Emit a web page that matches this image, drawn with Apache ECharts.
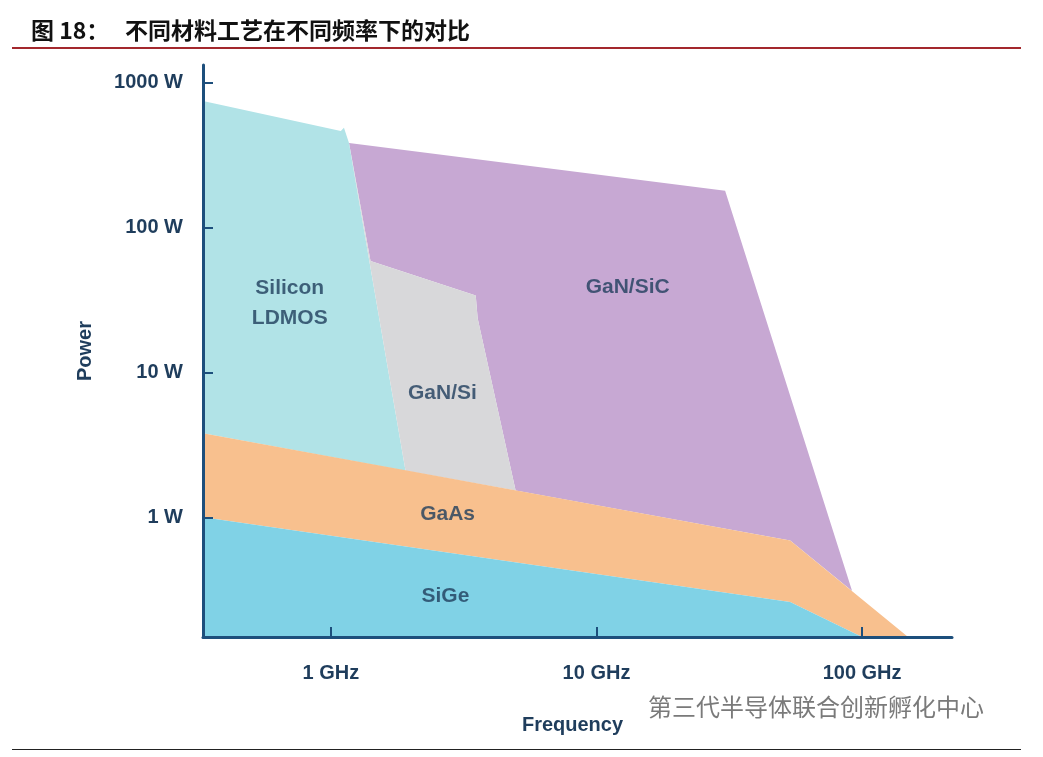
<!DOCTYPE html>
<html><head><meta charset="utf-8">
<script src="https://cdn.jsdelivr.net/npm/echarts@6/dist/echarts.min.js"></script>
<style>
html,body{margin:0;padding:0;background:#fff;}
#chart{width:1043px;height:757px;}
</style></head>
<body><div id="chart"></div>
<script>
// vertices as [GHz, W]
const ldmos = [[0.33, 750], [1.09, 466], [1.12, 490], [1.17, 385], [1.91, 2.1], [0.33, 3.8]];
const ganSi = [[1.17, 385], [1.41, 59], [3.51, 34], [3.57, 23.6], [4.96, 1.53], [1.91, 2.1]];
const ganSiC = [[1.17, 385], [30.5, 180], [91.7, 0.31], [53.6, 0.69], [4.96, 1.53], [3.57, 23.6], [3.51, 34], [1.41, 59]];
const gaAs = [[0.33, 3.8], [53.6, 0.69], [149, 0.149], [100, 0.149], [53.6, 0.26], [0.33, 1]];
const siGe = [[0.33, 1], [53.6, 0.26], [100, 0.149], [0.33, 0.149]];
const regionNames = ['Silicon\nLDMOS', 'GaN/Si', 'GaN/SiC', 'GaAs', 'SiGe'];
const labelPoints = [[0.70, 30], [2.63, 7.2], [13.1, 39], [2.75, 1.05], [2.7, 0.285]];
const xTickValues = [1, 10, 100];
const xTickLabels = ['1 GHz', '10 GHz', '100 GHz'];
const yTickValues = [1, 10, 100, 1000];
const yTickLabels = ['1 W', '10 W', '100 W', '1000 W'];

const axisColor = '#1d4f7c';
const textColor = '#1f3d5c';

function polygon(name, pts, color) {
  return {
    name: name, type: 'custom', data: pts, clip: true, silent: true, z: 1,
    renderItem: function (params, api) {
      if (params.dataIndex !== 0) return;
      return {
        type: 'polygon',
        shape: { points: pts.map(p => api.coord(p)) },
        style: { fill: color }
      };
    }
  };
}

const chart = echarts.init(document.getElementById('chart'));
chart.setOption({
  animation: false,
  title: {
    text: '图 18：   不同材料工艺在不同频率下的对比',
    left: 26, top: 14,
    textStyle: { fontSize: 23, fontWeight: 'bold', color: '#111', fontFamily: 'Noto Sans CJK SC' }
  },
  grid: { left: 203, right: 91, top: 65, bottom: 120 },
  xAxis: {
    type: 'log', min: 0.33, max: 218, z: 5,
    name: 'Frequency', nameLocation: 'middle', nameGap: 78,
    nameTextStyle: { fontSize: 20, fontWeight: 'bold', color: textColor, padding: [0, 0, 0, -10] },
    axisLine: { lineStyle: { color: axisColor, width: 3 } },
    axisTick: { inside: true, length: 10, customValues: xTickValues, lineStyle: { color: axisColor, width: 2 } },
    axisLabel: { margin: 26, fontSize: 20, fontWeight: 'bold', color: textColor,
      customValues: xTickValues, formatter: v => xTickLabels[xTickValues.indexOf(Math.round(v))] || '' },
    splitLine: { show: false }
  },
  yAxis: {
    type: 'log', min: 0.149, max: 1330, z: 5,
    name: 'Power', nameLocation: 'middle', nameGap: 108, nameRotate: 90,
    nameTextStyle: { fontSize: 20, fontWeight: 'bold', color: textColor },
    axisLine: { lineStyle: { color: axisColor, width: 3 } },
    axisTick: { inside: true, length: 10, customValues: yTickValues, lineStyle: { color: axisColor, width: 2 } },
    axisLabel: { margin: 20, fontSize: 20, fontWeight: 'bold', color: textColor,
      customValues: yTickValues, formatter: v => yTickLabels[yTickValues.indexOf(Math.round(v))] || '' },
    splitLine: { show: false }
  },
  series: [
    polygon('GaN/SiC', ganSiC, '#c7a8d3'),
    polygon('Silicon LDMOS', ldmos, '#b1e3e7'),
    polygon('GaN/Si', ganSi, '#d8d8da'),
    polygon('GaAs', gaAs, '#f8c08e'),
    polygon('SiGe', siGe, '#80d2e6'),
    {
      type: 'scatter', symbolSize: 0, silent: true, z: 3,
      data: labelPoints.map((p, i) => ({ value: p, name: regionNames[i] })),
      label: { show: true, position: 'inside', formatter: p => p.name,
        fontSize: 21, fontWeight: 'bold', color: textColor, lineHeight: 30 }
    }
  ],
  graphic: [
    { type: 'rect', shape: { x: 12, y: 47, width: 1009, height: 2 }, style: { fill: '#a3282d' } },
    { type: 'rect', shape: { x: 12, y: 749, width: 1009, height: 1 }, style: { fill: '#222' } },
    { type: 'text', left: 648, top: 695, z: 10,
      style: { text: '第三代半导体联合创新孵化中心', fontSize: 24, fill: '#7a7a7a', fontFamily: 'Noto Sans CJK SC' } }
  ]
});
</script></body></html>
